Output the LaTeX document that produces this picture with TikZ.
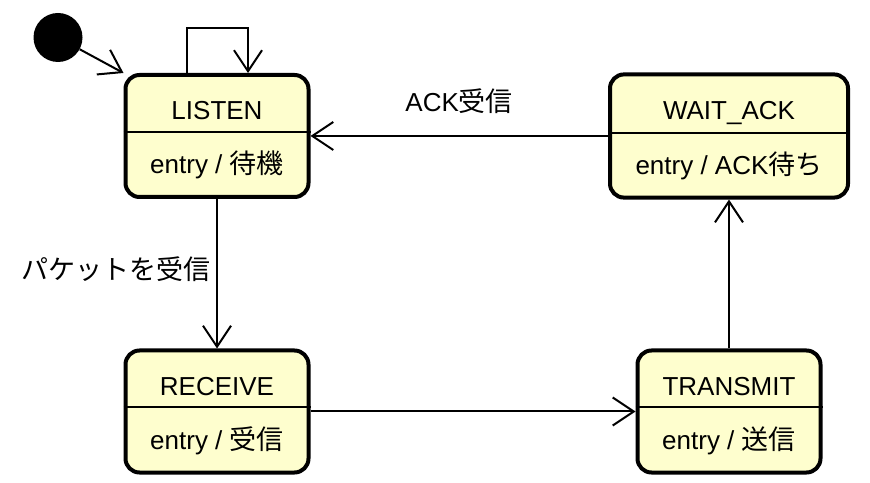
\documentclass[tikz,border=0pt]{standalone}
\usepackage{fontspec}
\setmainfont{Liberation Sans}
\newfontfamily\jp[Scale=1.04]{Noto Sans CJK JP}
\usepackage{xcolor}
\usetikzlibrary{arrows.meta, shapes.multipart}
\definecolor{statefill}{HTML}{FEFECE}
% struts for the name part and the entry part of a state
\newcommand{\namestrut}{\rule[-4pt]{0pt}{41pt}}
\newcommand{\entrystrut}{\rule[-15pt]{0pt}{49pt}}

\begin{document}
\begin{tikzpicture}[
        x=1pt, y=1pt,
        font=\fontsize{26}{30}\selectfont,
        state/.style={rectangle split, rectangle split parts=2, rectangle split draw splits=false,
            draw=black, line width=4pt, fill=statefill, rounded corners=14pt,
            minimum width=183pt, inner xsep=20pt, inner ysep=6pt, align=center},
        init/.style={circle, fill=black, minimum size=49pt, inner sep=0pt},
        split/.style={line width=2pt},
        arr/.style={-{Straight Barb[length=21pt, width=28pt]}, line width=2pt}
    ]
    \useasboundingbox (0,0) rectangle (870,482);

    \node[init]  (start)    at (58,444.5) {};
    \node[state] (listen)   at (217,346) {\namestrut LISTEN \nodepart{two}\entrystrut entry / {\jp 待機}};
    \node[state, minimum width=238pt] (wait) at (729,346) {\namestrut WAIT\_ACK \nodepart{two}\entrystrut entry / ACK{\jp 待ち}};
    \node[state] (receive)  at (217,70.5) {\namestrut RECEIVE \nodepart{two}\entrystrut entry / {\jp 受信}};
    \node[state] (transmit) at (729,70.5) {\namestrut TRANSMIT \nodepart{two}\entrystrut entry / {\jp 送信}};

    \draw[split] (listen.text split west) -- (listen.text split east);
    \draw[split] (wait.text split west) -- (wait.text split east);
    \draw[split] (receive.text split west) -- (receive.text split east);
    \draw[split] (transmit.text split west) -- (transmit.text split east);

    \draw[arr] (start) -- (listen.north west);
    \draw[arr] ([xshift=-30pt]listen.north) -- ++(0,45) -| ([xshift=31pt]listen.north);
    \draw[arr] (listen) -- node[left, inner sep=5pt, yshift=5pt]{\jp パケットを受信} (receive);
    \draw[arr] (receive) -- (transmit);
    \draw[arr] (transmit) -- (wait);
    \draw[arr] (wait) -- node[above=18pt]{ACK{\jp 受信}} (listen);
\end{tikzpicture}
\end{document}
